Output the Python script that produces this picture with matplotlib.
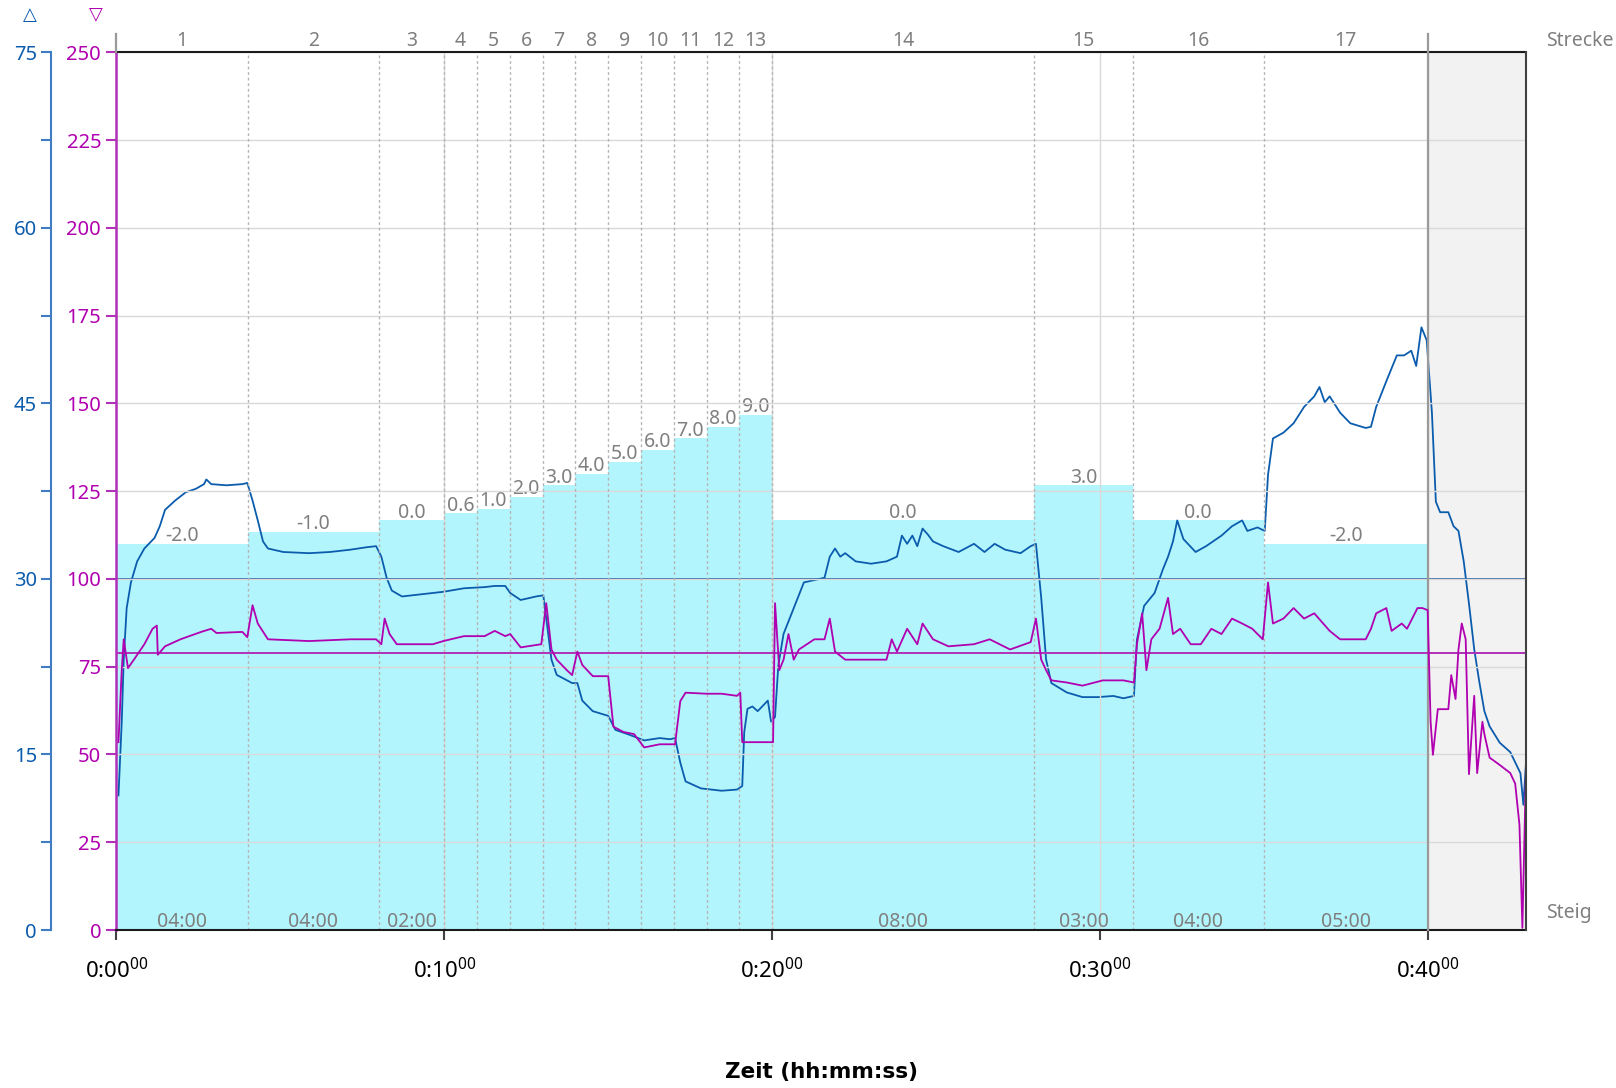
import matplotlib
matplotlib.use("Agg")
import matplotlib.pyplot as plt
from matplotlib.ticker import MultipleLocator, FixedLocator, NullFormatter
import matplotlib.transforms as mtransforms

plt.rcParams['font.family'] = ['Noto Sans', 'DejaVu Sans']
plt.rcParams['mathtext.fontset'] = 'custom'
plt.rcParams['mathtext.rm'] = 'Noto Sans'

# ---------------- data ----------------
seg_bounds = [0, 4, 8, 10, 11, 12, 13, 14, 15, 16, 17, 18, 19, 20, 28, 31, 35, 40]
seg_grades = [-2.0, -1.0, 0.0, 0.6, 1.0, 2.0, 3.0, 4.0, 5.0, 6.0, 7.0, 8.0, 9.0,
              0.0, 3.0, 0.0, -2.0]
seg_names = ["1", "2", "3", "4", "5", "6", "7", "8", "9", "10", "11", "12", "13",
             "14", "15", "16", "17"]
grade_base = 35.0          # grade 0 drawn at 35 on the left (blue) scale
x_ticks_min = [0, 10, 20, 30, 40]
blue_ref = 30
purple_ref = 79

blue_t = [0.06, 0.16, 0.22, 0.31, 0.44, 0.63, 0.85, 1.16, 1.32, 1.48, 1.79, 2.11, 2.42,
          2.67, 2.74, 2.89, 3.36, 3.84, 3.99, 4.15, 4.31, 4.47, 4.62, 5.09, 5.88, 6.51,
          7.14, 7.61, 7.92, 8.08, 8.24, 8.40, 8.71, 9.34, 9.97, 10.60, 11.23, 11.54,
          11.86, 12.01, 12.33, 12.80, 13.02, 13.11, 13.27, 13.43, 13.90, 14.06, 14.21,
          14.53, 15.00, 15.22, 15.63, 16.10, 16.57, 16.89, 17.04, 17.20, 17.36, 17.83,
          18.46, 18.93, 19.09, 19.15, 19.25, 19.40, 19.56, 19.87, 19.97, 20.09, 20.19,
          20.35, 20.66, 20.97, 21.29, 21.60, 21.76, 21.92, 22.08, 22.23, 22.55, 23.02,
          23.49, 23.81, 23.96, 24.12, 24.28, 24.43, 24.59, 24.75, 24.91, 25.22, 25.69,
          26.16, 26.48, 26.79, 27.11, 27.58, 27.89, 28.05, 28.21, 28.36, 28.52, 28.99,
          29.47, 29.94, 30.41, 30.72, 31.04, 31.13, 31.35, 31.67, 31.92, 32.08, 32.23,
          32.36, 32.55, 32.92, 33.24, 33.71, 34.03, 34.34, 34.50, 34.81, 35.03, 35.13,
          35.28, 35.60, 35.91, 36.23, 36.54, 36.70, 36.86, 37.01, 37.33, 37.64, 38.11,
          38.27, 38.43, 38.74, 39.06, 39.28, 39.50, 39.65, 39.81, 39.97, 40.13, 40.25,
          40.38, 40.63, 40.79, 40.94, 41.10, 41.26, 41.42, 41.57, 41.73, 41.89, 42.20,
          42.52, 42.83, 42.92, 43.00]
blue_v = [11.5, 17.8, 23.1, 27.5, 29.7, 31.5, 32.6, 33.5, 34.5, 35.9, 36.7, 37.4, 37.7,
          38.1, 38.5, 38.1, 38.0, 38.1, 38.2, 36.7, 35.0, 33.2, 32.6, 32.3, 32.2, 32.3,
          32.5, 32.7, 32.8, 31.9, 30.1, 29.0, 28.5, 28.7, 28.9, 29.2, 29.3, 29.4,
          29.4, 28.8, 28.2, 28.5, 28.6, 26.6, 23.1, 21.8, 21.1, 21.1, 19.6,
          18.7, 18.3, 17.1, 16.7, 16.2, 16.4, 16.3, 16.4, 14.3, 12.7, 12.1,
          11.9, 12.0, 12.3, 16.9, 18.9, 19.1, 18.7, 19.6, 17.8, 18.2, 22.6,
          25.3, 27.5, 29.7, 29.9, 30.1, 31.9, 32.6, 31.9, 32.2, 31.5, 31.3,
          31.5, 31.9, 33.7, 33.0, 33.7, 32.8, 34.3, 33.8, 33.2, 32.8, 32.3,
          33.0, 32.3, 33.0, 32.5, 32.2, 32.8, 33.0, 28.4, 23.1, 21.1, 20.3,
          19.9, 19.9, 20.0, 19.8, 20.0, 24.8, 27.7, 28.8, 30.8, 31.9, 33.2,
          35.0, 33.4, 32.3, 32.8, 33.7, 34.5, 35.0, 34.1, 34.4, 34.1, 38.9,
          42.0, 42.5, 43.3, 44.7, 45.6, 46.4, 45.1, 45.6, 44.2, 43.3, 42.9,
          43.0, 44.7, 46.9, 49.1, 49.1, 49.5, 48.2, 51.5, 50.4, 44.2, 36.6,
          35.7, 35.7, 34.5, 34.1, 31.5, 27.9, 24.0, 21.3, 18.7, 17.4, 16.0,
          15.2, 13.4, 10.7, 14.3]

purple_t = [0.06, 0.16, 0.22, 0.35, 0.53, 0.85, 1.10, 1.23, 1.26, 1.48, 1.95, 2.58, 2.89,
            3.05, 3.84, 3.99, 4.15, 4.31, 4.62, 5.88, 7.14, 7.92, 8.08, 8.18, 8.33, 8.55,
            9.65, 9.97, 10.60, 11.23, 11.54, 11.86, 12.01, 12.33, 12.96, 13.11, 13.27,
            13.43, 13.74, 13.90, 14.06, 14.21, 14.53, 15.00, 15.16, 15.47, 15.79, 16.10,
            16.57, 17.04, 17.20, 17.36, 17.99, 18.46, 18.93, 19.03, 19.09, 19.87, 20.03,
            20.09, 20.22, 20.35, 20.50, 20.66, 20.82, 21.29, 21.60, 21.76, 21.92, 22.23,
            23.49, 23.65, 23.81, 24.12, 24.43, 24.59, 24.91, 25.38, 26.16, 26.64, 27.26,
            27.89, 28.05, 28.21, 28.36, 28.52, 28.99, 29.47, 30.09, 30.72, 31.04, 31.13,
            31.29, 31.42, 31.57, 31.82, 32.08, 32.23, 32.45, 32.77, 33.08, 33.40, 33.71,
            34.03, 34.34, 34.65, 34.97, 35.13, 35.28, 35.60, 35.91, 36.23, 36.54, 37.01,
            37.33, 38.11, 38.27, 38.43, 38.74, 38.90, 39.21, 39.37, 39.69, 39.84, 40.00,
            40.09, 40.16, 40.31, 40.63, 40.72, 40.85, 40.94, 41.04, 41.16, 41.26, 41.42,
            41.51, 41.67, 41.73, 41.89, 42.20, 42.52, 42.67, 42.80, 42.89, 43.00]
purple_v = [53.5, 74.0, 82.8, 74.6, 77.0, 81.4, 85.8, 86.7, 78.4, 80.8, 82.8, 84.9, 85.8,
            84.6, 84.9, 83.4, 92.5, 87.3, 82.8, 82.3, 82.8, 82.8, 81.4, 88.7, 84.3, 81.4,
            81.4, 82.3, 83.7, 83.7, 85.2, 83.7, 84.3, 80.5, 81.4, 93.1, 79.9,
            77.0, 74.0, 72.6, 79.3, 75.5, 72.3, 72.3, 57.9, 56.4, 55.8, 52.0,
            52.9, 52.9, 65.2, 67.6, 67.3, 67.3, 66.7, 67.6, 53.5, 53.5, 53.5,
            93.1, 74.0, 77.0, 84.3, 77.0, 79.9, 82.8, 82.8, 88.7, 79.3, 77.0,
            77.0, 82.8, 79.3, 85.8, 81.4, 87.3, 82.8, 80.8, 81.4, 82.8, 79.9,
            82.0, 88.7, 77.0, 74.0, 71.1, 70.5, 69.6, 71.1, 71.1, 70.5, 81.4,
            90.2, 74.0, 82.8, 85.8, 94.6, 84.3, 85.8, 81.4, 81.4, 85.8, 84.3,
            88.7, 87.3, 85.8, 82.8, 99.0, 87.3, 88.7, 91.7, 88.7, 90.2, 85.2,
            82.8, 82.8, 85.8, 90.2, 91.7, 85.2, 87.3, 85.8, 91.7, 91.7, 91.1,
            59.3, 49.9, 62.9, 62.9, 72.6, 65.8, 79.9, 87.3, 82.8, 44.4, 66.7,
            44.7, 59.3, 55.8, 49.1, 47.0, 44.7, 41.7, 30.0, 0.6, 46.1]

# ---------------- style ----------------
C_BLUE = '#0b5cad'
C_BLUE_AX = '#3f7cc4'
C_PURPLE = '#b000b0'
C_PURPLE_AX = '#b030b8'
C_CYAN = '#b3f5fd'
C_GRAY_TXT = '#7f7f7f'
C_GRID = '#d9d9d9'

W, H = 1616, 1088
fig = plt.figure(figsize=(W / 100, H / 100), dpi=100)
L, R, T, B = 116.5, 1526, 52.3, 930
ax = fig.add_axes([L / W, 1 - B / H, (R - L) / W, (B - T) / H])
axb = ax.twinx()

ax.set_zorder(axb.get_zorder() + 1)
ax.patch.set_visible(False)

ax.set_xlim(0, 43)
ax.set_ylim(0, 250)
axb.set_ylim(0, 75)

# background elements on the blue axes
axb.axvspan(seg_bounds[-1], 43, color='#f2f2f2', zorder=0, lw=0)
step_y = [grade_base + g for g in seg_grades] + [grade_base + seg_grades[-1]]
axb.fill_between(seg_bounds, 0, step_y, step='post', color=C_CYAN, lw=0, zorder=1)
axb.plot(blue_t, blue_v, color=C_BLUE, lw=1.3, zorder=5)
axb.axhline(blue_ref, color='#3a6ea8', lw=1.4, zorder=4)

# grid and overlays on the purple axes
ax.yaxis.set_major_locator(MultipleLocator(25))
ax.xaxis.set_major_locator(FixedLocator(x_ticks_min))
ax.grid(True, color=C_GRID, lw=1.0, zorder=0)
ax.set_axisbelow(True)
for xb in seg_bounds[1:-1]:
    ax.axvline(xb, color='#b4b4b4', lw=1.0, ls=(0, (2, 2)), zorder=2)
ax.axvline(seg_bounds[-1], ymin=0, ymax=1.021, color='#9a9a9a', lw=1.6, zorder=3,
           clip_on=False)
ax.axvline(0, ymin=1.0, ymax=1.021, color='#9a9a9a', lw=1.6, zorder=3, clip_on=False)
ax.axhline(purple_ref, color=C_PURPLE_AX, lw=1.4, zorder=4)
ax.plot(purple_t, purple_v, color=C_PURPLE, lw=1.3, zorder=6)

# spines
for sp in axb.spines.values():
    sp.set_visible(False)
axb.spines['left'].set_visible(True)
axb.spines['left'].set_position(('outward', 65.5 * 72 / 100))
axb.spines['left'].set_color(C_BLUE_AX)
axb.spines['left'].set_linewidth(1.5)
axb.yaxis.tick_left()
axb.yaxis.set_major_locator(MultipleLocator(15))
axb.yaxis.set_minor_locator(MultipleLocator(7.5))
axb.yaxis.set_minor_formatter(NullFormatter())
axb.tick_params(axis='y', which='both', colors=C_BLUE_AX, length=7, width=1.5,
                labelcolor=C_BLUE, labelsize=14.5, pad=3)

ax.spines['left'].set_color(C_PURPLE_AX)
ax.spines['left'].set_linewidth(1.8)
ax.spines['top'].set_color('#1a1a1a')
ax.spines['bottom'].set_color('#1a1a1a')
ax.spines['right'].set_color('#404040')
for s in ('top', 'bottom', 'right'):
    ax.spines[s].set_linewidth(1.5)
ax.spines['right'].set_zorder(7)
ax.tick_params(axis='y', colors=C_PURPLE_AX, length=7, width=1.5,
               labelcolor=C_PURPLE, labelsize=14.5, pad=4)
ax.tick_params(axis='x', colors='#404040', length=7, width=1.5,
               labelcolor='black', labelsize=16, pad=13)
ax.set_xticklabels([f"{m // 60}:{m % 60:02d}" + r"$^{\mathregular{00}}$" for m in x_ticks_min])

# labels
top_tr = mtransforms.blended_transform_factory(ax.transData, ax.transAxes)
for i, name in enumerate(seg_names):
    xc = (seg_bounds[i] + seg_bounds[i + 1]) / 2
    ax.text(xc, 1.0 + 11.5 / (B - T), name, transform=top_tr, ha='center', va='center',
            fontsize=14, color=C_GRAY_TXT)
    g = seg_grades[i]
    axb.annotate(f"{g:.1f}", xy=(xc, grade_base + g), xytext=(0, 2),
                 textcoords='offset points', ha='center', va='baseline',
                 fontsize=14, color=C_GRAY_TXT, zorder=8)
    dur = seg_bounds[i + 1] - seg_bounds[i]
    if dur >= 2:
        ax.annotate(f"{int(dur):02d}:00", xy=(xc, 0), xycoords=top_tr, xytext=(0, 2.5),
                    textcoords='offset points', ha='center', va='baseline',
                    fontsize=14, color=C_GRAY_TXT, zorder=8)

ax.text(1.0142, 1.0 + 11.5 / (B - T), "Strecke", transform=ax.transAxes, ha='left',
        va='center', fontsize=14, color=C_GRAY_TXT)
ax.text(1.0142, 17 / (B - T), "Steig", transform=ax.transAxes, ha='left',
        va='center', fontsize=14, color=C_GRAY_TXT)

fig.text(30 / W, 1 - 14.5 / H, "\u25b3", ha='center', va='center', fontsize=13,
         color=C_BLUE, family='DejaVu Sans')
fig.text(96 / W, 1 - 14.5 / H, "\u25bd", ha='center', va='center', fontsize=13,
         color=C_PURPLE, family='DejaVu Sans')
fig.text((L + R) / 2 / W, 1 - 1072 / H, "Zeit (hh:mm:ss)", ha='center', va='center',
         fontsize=15.5, fontweight='bold', color='black', family='DejaVu Sans')

fig.savefig("out.png", dpi=100)
